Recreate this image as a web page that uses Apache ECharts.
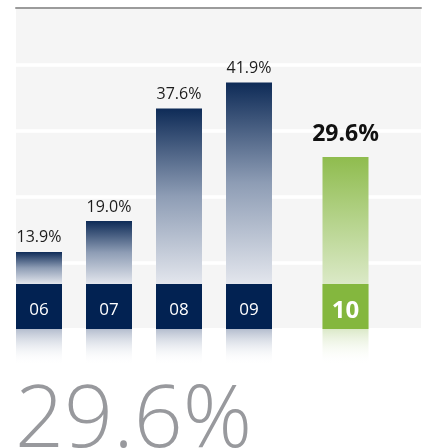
<!DOCTYPE html>
<html><head><meta charset="utf-8">
<script src="https://cdn.jsdelivr.net/npm/echarts@6/dist/echarts.min.js"></script>
<style>html,body{margin:0;padding:0;background:#fff;overflow:hidden}#c{width:427px;height:448px}</style>
</head><body><div id="c"></div>
<script>
// ---- data ----
const categories = ['06', '07', '08', '09', '10'];
const values = [13.9, 19.0, 37.6, 41.9, 29.6];
const guideTicks = [0, 10, 20, 30, 40];

const histCats = categories.slice(0, 4);
const histVals = values.slice(0, 4);
const curCats = categories.slice(4);
const curVals = values.slice(4);
const fmt = v => v.toFixed(1) + '%';

// ---- style / layout constants ----
const FONT = "'Open Sans', 'Noto Sans', sans-serif";
const Y_MIN = 1.17, Y_MAX = 54.03;   // bar axis range
const BOX_TOP_VALUE = 8.6;           // level where the label boxes start
const NAVY = '#022252', GREEN = '#84b73e';

function barGrad(v, top, mid, bot) {
  const f = Math.max(0.05, Math.min(1, (v - BOX_TOP_VALUE) / (v - Y_MIN)));
  return {type: 'linear', x: 0, y: 0, x2: 0, y2: 1, colorStops: [
    {offset: 0, color: top}, {offset: f * 0.5, color: mid},
    {offset: f, color: bot}, {offset: 1, color: bot}]};
}
const reflGrad = (c) => ({type: 'linear', x: 0, y: 0, x2: 0, y2: 1, colorStops: [
  {offset: 0, color: c}, {offset: 1, color: 'rgba(255,255,255,0)'}]});

const chart = echarts.init(document.getElementById('c'), null, {renderer: 'canvas'});

const hiddenCat = (gi, data) => ({
  gridIndex: gi, type: 'category', data: data, show: false,
  axisLine: {show: false}, axisTick: {show: false}, splitLine: {show: false}, axisLabel: {show: false}
});
const hiddenVal = (gi, min, max, extra) => Object.assign({
  gridIndex: gi, type: 'value', min: min, max: max, show: false
}, extra || {});

const HIST_X = {left: 4, width: 280}, CUR_X = {left: 310.5, width: 70};
const g = (x, extra) => Object.assign({outerBoundsMode: 'none'}, x, extra);

const option = {
  animation: false,
  backgroundColor: '#fff',
  grid: [
    {left: 16, right: 6, top: 8, bottom: 120, show: true, backgroundColor: '#f5f5f5', borderWidth: 0, outerBoundsMode: 'none'},
    g(HIST_X, {top: 9, bottom: 119}),
    g(CUR_X, {top: 9, bottom: 119}),
    g(HIST_X, {top: 329, height: 36}),
    g(CUR_X, {top: 329, height: 36}),
    g(HIST_X, {top: 284, height: 45}),
    g(CUR_X, {top: 284, height: 45})
  ],
  xAxis: [
    {gridIndex: 0, type: 'value', min: 0, max: 1, position: 'top',
     axisLine: {show: true, onZero: false, lineStyle: {color: '#9b9b9b', width: 2}},
     axisTick: {show: false}, axisLabel: {show: false}, splitLine: {show: false}},
    hiddenCat(1, histCats), hiddenCat(2, curCats), hiddenCat(3, histCats), hiddenCat(4, curCats),
    hiddenCat(5, histCats), hiddenCat(6, curCats)
  ],
  yAxis: [
    {gridIndex: 0, type: 'value', min: guideTicks[0], max: 48.7, interval: guideTicks[1] - guideTicks[0],
     axisLine: {show: false}, axisTick: {show: false}, axisLabel: {show: false},
     splitLine: {show: true, showMinLine: false, showMaxLine: false, lineStyle: {color: '#ffffff', width: 3.5}}},
    hiddenVal(1, Y_MIN, Y_MAX), hiddenVal(2, Y_MIN, Y_MAX),
    hiddenVal(3, 0, 1, {inverse: true}), hiddenVal(4, 0, 1, {inverse: true}),
    hiddenVal(5, 0, 1), hiddenVal(6, 0, 1)
  ],
  series: [
    {type: 'bar', xAxisIndex: 1, yAxisIndex: 1, barWidth: 46, clip: true, z: 2,
     data: histVals.map(v => ({value: v, itemStyle: {color: barGrad(v, '#0e2b57', '#8e9db5', '#e3e6ed')}})),
     label: {show: true, position: 'top', distance: 6, formatter: p => fmt(p.value),
             fontFamily: FONT, fontSize: 16, fontWeight: 'normal', color: '#1c1c1c'}},
    {type: 'bar', xAxisIndex: 2, yAxisIndex: 2, barWidth: 46, clip: true, z: 2,
     data: curVals.map(v => ({value: v, itemStyle: {color: barGrad(v, '#8fbc4e', '#b5d38b', '#dbe9c7')}})),
     label: {show: true, position: 'top', distance: 11, formatter: p => fmt(p.value),
             fontFamily: FONT, fontSize: 23, fontWeight: 'bold', color: '#111'}},
    {type: 'bar', xAxisIndex: 3, yAxisIndex: 3, barWidth: 46, clip: true, silent: true,
     data: histVals, itemStyle: {color: reflGrad('#b4bdce')}},
    {type: 'bar', xAxisIndex: 4, yAxisIndex: 4, barWidth: 46, clip: true, silent: true,
     data: curVals, itemStyle: {color: reflGrad('#dbe9c8')}},
    {type: 'bar', xAxisIndex: 5, yAxisIndex: 5, barWidth: 46, clip: true, silent: true, z: 4,
     data: histVals, itemStyle: {color: NAVY},
     label: {show: true, position: 'inside', offset: [0, 4], formatter: p => p.name,
             fontFamily: FONT, fontSize: 17, fontWeight: 'normal', color: '#fff'}},
    {type: 'bar', xAxisIndex: 6, yAxisIndex: 6, barWidth: 46, clip: true, silent: true, z: 4,
     data: curVals, itemStyle: {color: GREEN},
     label: {show: true, position: 'inside', offset: [0, 5], formatter: p => p.name,
             fontFamily: FONT, fontSize: 24, fontWeight: 'bold', color: '#fff'}}
  ],
  graphic: [
    {type: 'text', left: 15, top: 379, z: 20,
     style: {text: fmt(curVals[0]), fill: '#98999d', font: "300 86px 'Open Sans', sans-serif"}}
  ]
};
chart.setOption(option);
</script>
</body></html>
